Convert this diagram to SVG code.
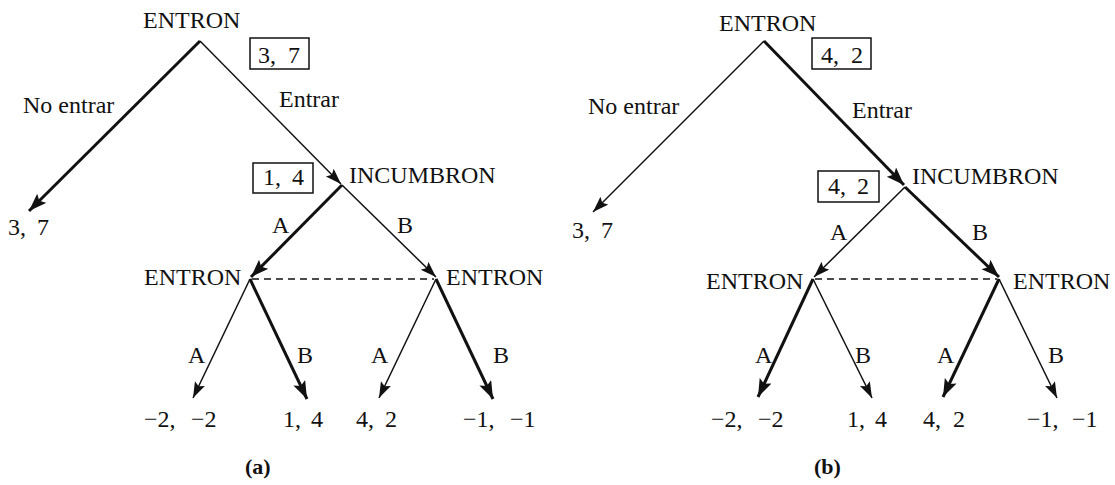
<svg xmlns="http://www.w3.org/2000/svg" width="1115" height="485" viewBox="0 0 1115 485">
<style>
text{font-family:"Liberation Serif","Times New Roman",serif;font-size:24px;fill:#111}
.cap{font-weight:bold;font-size:22px}
.thin{stroke:#111;stroke-width:1.5;fill:none}
.thick{stroke:#111;stroke-width:3;fill:none}
.dash{stroke:#111;stroke-width:1.4;stroke-dasharray:7 5;fill:none}
.box{stroke:#111;stroke-width:1.5;fill:#fff}
</style>
<defs>
<marker id="ahThin" markerUnits="userSpaceOnUse" markerWidth="17" markerHeight="12" refX="16" refY="5.5" orient="auto">
<path d="M0,0 L16,5.5 L0,11 L3,5.5 z" fill="#111"/>
</marker>
<marker id="ahThick" markerUnits="userSpaceOnUse" markerWidth="19" markerHeight="14" refX="18" refY="6.5" orient="auto">
<path d="M0,0 L18,6.5 L0,13 L3.5,6.5 z" fill="#111"/>
</marker>
</defs>
<rect width="1115" height="485" fill="#fff"/>

<g id="connectors">
<!-- panel a -->
<path class="thick" d="M200,41 L29,211" marker-end="url(#ahThick)"/>
<path class="thin" d="M200,41 L341,184" marker-end="url(#ahThin)"/>
<path class="thick" d="M342,185 L251,277" marker-end="url(#ahThick)"/>
<path class="thin" d="M342,185 L436,277" marker-end="url(#ahThin)"/>
<path class="thin" d="M250,279 L193,398" marker-end="url(#ahThin)"/>
<path class="thick" d="M250,279 L307,399" marker-end="url(#ahThick)"/>
<path class="thin" d="M436,279 L379,398" marker-end="url(#ahThin)"/>
<path class="thick" d="M436,279 L493,399" marker-end="url(#ahThick)"/>
<path class="dash" d="M252,279 L434,279"/>
<text x="23" y="113">No entrar</text>
<text x="279" y="107">Entrar</text>
<text x="272" y="233">A</text>
<text x="397" y="233">B</text>
<text x="188" y="363">A</text>
<text x="297" y="363">B</text>
<text x="371" y="363">A</text>
<text x="493" y="363">B</text>
<!-- panel b -->
<path class="thin" d="M764,41 L593,212" marker-end="url(#ahThin)"/>
<path class="thick" d="M764,41 L904,185" marker-end="url(#ahThick)"/>
<path class="thin" d="M905,187 L814,277" marker-end="url(#ahThin)"/>
<path class="thick" d="M905,187 L999,277" marker-end="url(#ahThick)"/>
<path class="thick" d="M813,279 L758,397" marker-end="url(#ahThick)"/>
<path class="thin" d="M813,279 L872,398" marker-end="url(#ahThin)"/>
<path class="thick" d="M999,279 L943,397" marker-end="url(#ahThick)"/>
<path class="thin" d="M999,279 L1057,398" marker-end="url(#ahThin)"/>
<path class="dash" d="M815,279 L997,279"/>
<text x="588" y="114">No entrar</text>
<text x="852" y="118">Entrar</text>
<text x="830" y="240">A</text>
<text x="972" y="240">B</text>
<text x="755" y="363">A</text>
<text x="855" y="363">B</text>
<text x="937" y="363">A</text>
<text x="1048" y="363">B</text>
</g>

<!-- panel a nodes -->
<g id="a-root">
<text x="143" y="28">ENTRON</text>
<rect class="box" x="250" y="38" width="59" height="31"/>
<text y="63"><tspan x="258">3,</tspan><tspan x="288">7</tspan></text>
</g>
<g id="a-incumbron">
<text x="349" y="183">INCUMBRON</text>
<rect class="box" x="253" y="163" width="60" height="30"/>
<text y="185"><tspan x="263">1,</tspan><tspan x="292">4</tspan></text>
</g>
<g id="a-entron-left"><text x="144" y="285">ENTRON</text></g>
<g id="a-entron-right"><text x="446" y="285">ENTRON</text></g>
<g id="a-out-noentrar"><text y="235"><tspan x="8">3,</tspan><tspan x="37">7</tspan></text></g>
<g id="a-out-aa"><text y="427"><tspan x="144">−2,</tspan><tspan x="191">−2</tspan></text></g>
<g id="a-out-ab"><text y="427"><tspan x="283">1,</tspan><tspan x="311">4</tspan></text></g>
<g id="a-out-ba"><text y="427"><tspan x="356">4,</tspan><tspan x="385">2</tspan></text></g>
<g id="a-out-bb"><text y="427"><tspan x="463">−1,</tspan><tspan x="510">−1</tspan></text></g>
<g id="a-caption"><text class="cap" x="245" y="474">(a)</text></g>

<!-- panel b nodes -->
<g id="b-root">
<text x="719" y="31">ENTRON</text>
<rect class="box" x="812" y="38" width="59" height="31"/>
<text y="63"><tspan x="821">4,</tspan><tspan x="851">2</tspan></text>
</g>
<g id="b-incumbron">
<text x="912" y="184">INCUMBRON</text>
<rect class="box" x="818" y="171" width="61" height="31"/>
<text y="194"><tspan x="828">4,</tspan><tspan x="857">2</tspan></text>
</g>
<g id="b-entron-left"><text x="706" y="289">ENTRON</text></g>
<g id="b-entron-right"><text x="1013" y="289">ENTRON</text></g>
<g id="b-out-noentrar"><text y="238"><tspan x="572">3,</tspan><tspan x="601">7</tspan></text></g>
<g id="b-out-aa"><text y="427"><tspan x="711">−2,</tspan><tspan x="758">−2</tspan></text></g>
<g id="b-out-ab"><text y="427"><tspan x="847">1,</tspan><tspan x="875">4</tspan></text></g>
<g id="b-out-ba"><text y="427"><tspan x="923">4,</tspan><tspan x="953">2</tspan></text></g>
<g id="b-out-bb"><text y="427"><tspan x="1027">−1,</tspan><tspan x="1072">−1</tspan></text></g>
<g id="b-caption"><text class="cap" x="814" y="474">(b)</text></g>
</svg>
